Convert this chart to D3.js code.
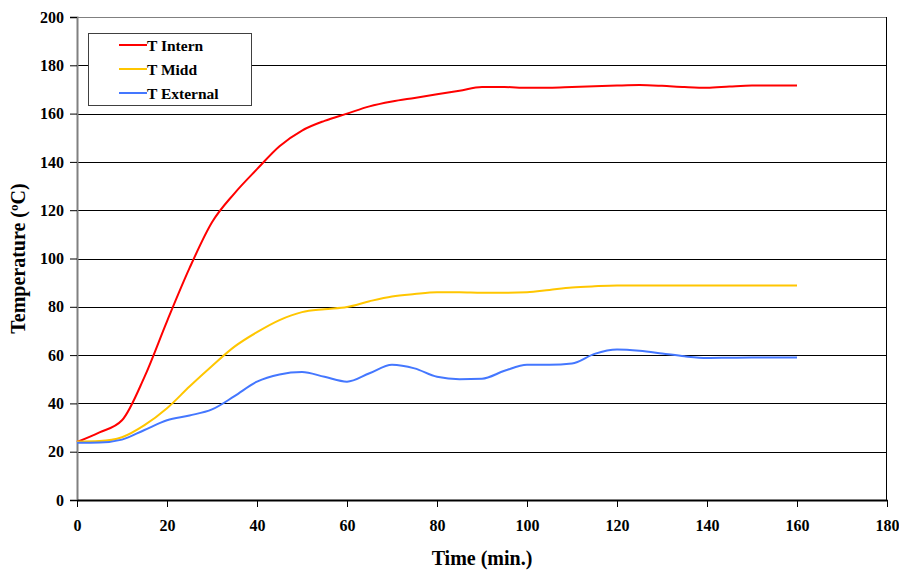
<!DOCTYPE html>
<html>
<head>
<meta charset="utf-8">
<script src="https://cdn.jsdelivr.net/npm/d3@7"></script>
<style>
  body { margin: 0; background: #fff; }
  text { font-family: "Liberation Serif", "Times New Roman", serif; font-weight: bold; }
</style>
</head>
<body>
<div id="chart"></div>
<script>
// time in minutes, every 5 min
var times = [0,5,10,15,20,25,30,35,40,45,50,55,60,65,70,75,80,85,90,95,100,105,110,115,120,125,130,135,140,145,150,155,160];

var tIntern = [24,28,33,51,74,96,115,127,137,146.5,153,157,160,163,165,166.5,168,169.5,171,171,170.7,170.7,171,171.3,171.6,171.8,171.5,171,170.7,171.2,171.6,171.6,171.6];
var tMidd = [24.2,24.4,26,31,38,47,55.5,63.5,69.5,74.5,77.8,79,79.9,82.3,84.3,85.3,86,86,85.8,85.8,86,87,88,88.5,88.8,88.8,88.8,88.8,88.8,88.8,88.8,88.8,88.8];
var tExternal = [23.7,23.8,25,29,33,35,37.5,43,49,52,53,51,49,52.5,56,54.5,51,50,50.2,53.5,56,56,56.5,60.5,62.3,61.8,60.7,59.5,58.8,58.9,59,59,59];

var seriesNames = ["T Intern", "T Midd", "T External"];
var seriesColors = ["#ff0000", "#ffc600", "#4477ff"];
var seriesValues = [tIntern, tMidd, tExternal];

var xTicks = [0,20,40,60,80,100,120,140,160,180];
var yTicks = [0,20,40,60,80,100,120,140,160,180,200];

var W = 899, H = 570;
var margin = {top: 17, right: 12, bottom: 70, left: 77};
var width = W - margin.left - margin.right;
var height = H - margin.top - margin.bottom;

var svg = d3.select("#chart")
  .append("svg")
    .attr("width", W)
    .attr("height", H);

var g = svg.append("g")
    .attr("transform", "translate(" + margin.left + "," + margin.top + ")");

var x = d3.scaleLinear().domain([0, 180]).range([0, width]);
var y = d3.scaleLinear().domain([0, 200]).range([height, 0]);

// horizontal gridlines
g.selectAll(".grid")
  .data(yTicks.slice(1, -1))
  .enter()
  .append("line")
    .attr("x1", 0)
    .attr("x2", width)
    .attr("y1", function(d){ return Math.round(y(d)) + 0.5; })
    .attr("y2", function(d){ return Math.round(y(d)) + 0.5; })
    .attr("stroke", "#000")
    .attr("stroke-width", 1);

// top border (grey) and right border (black)
g.append("line")
    .attr("x1", 0).attr("x2", width)
    .attr("y1", 0.5).attr("y2", 0.5)
    .attr("stroke", "#808080");
g.append("line")
    .attr("x1", width - 0.5).attr("x2", width - 0.5)
    .attr("y1", 0).attr("y2", height)
    .attr("stroke", "#000");

// y axis
var yAxis = g.append("g")
    .call(d3.axisLeft(y).tickValues(yTicks).tickSize(7).tickPadding(6));
yAxis.select(".domain").attr("stroke", "#808080").attr("stroke-width", 2);
yAxis.selectAll(".tick line").attr("stroke", "#000");
yAxis.selectAll("text")
    .attr("font-size", 16)
    .attr("fill", "#000")
    .style("font-family", "'Liberation Serif', serif")
    .style("font-weight", "bold");

// x axis
var xAxis = g.append("g")
    .attr("transform", "translate(0," + height + ")")
    .call(d3.axisBottom(x).tickValues(xTicks).tickSize(7).tickPadding(13).tickSizeOuter(0));
xAxis.select(".domain").attr("stroke", "#000").attr("stroke-width", 2);
xAxis.selectAll(".tick line").attr("stroke", "#000");
xAxis.selectAll("text")
    .attr("font-size", 16)
    .attr("fill", "#000")
    .style("font-family", "'Liberation Serif', serif")
    .style("font-weight", "bold");

// lines
var line = d3.line()
    .x(function(d, i){ return x(times[i]); })
    .y(function(d){ return y(d); })
    .curve(d3.curveMonotoneX);

g.selectAll(".series")
  .data(seriesValues)
  .enter()
  .append("path")
    .attr("d", line)
    .attr("fill", "none")
    .attr("stroke", function(d, i){ return seriesColors[i]; })
    .attr("stroke-width", 2);

// axis titles
svg.append("text")
    .attr("x", margin.left + width / 2)
    .attr("y", 565)
    .attr("text-anchor", "middle")
    .attr("font-size", 20)
    .text("Time (min.)");

svg.append("text")
    .attr("transform", "translate(25," + (margin.top + height / 2) + ") rotate(-90)")
    .attr("text-anchor", "middle")
    .attr("font-size", 20)
    .text("Temperature (ºC)");

// legend
var legend = svg.append("g").attr("transform", "translate(88,33)");
legend.append("rect")
    .attr("x", 0.5).attr("y", 0.5)
    .attr("width", 163).attr("height", 72)
    .attr("fill", "#fff")
    .attr("stroke", "#404040");

var items = legend.selectAll(".item")
  .data(seriesNames)
  .enter()
  .append("g")
    .attr("transform", function(d, i){ return "translate(0," + (12 + i * 24) + ")"; });

items.append("line")
    .attr("x1", 31).attr("x2", 59)
    .attr("y1", 0).attr("y2", 0)
    .attr("stroke", function(d, i){ return seriesColors[i]; })
    .attr("stroke-width", 2);

items.append("text")
    .attr("x", 59)
    .attr("y", 5.5)
    .attr("font-size", 15.5)
    .text(function(d){ return d; });
</script>
</body>
</html>
